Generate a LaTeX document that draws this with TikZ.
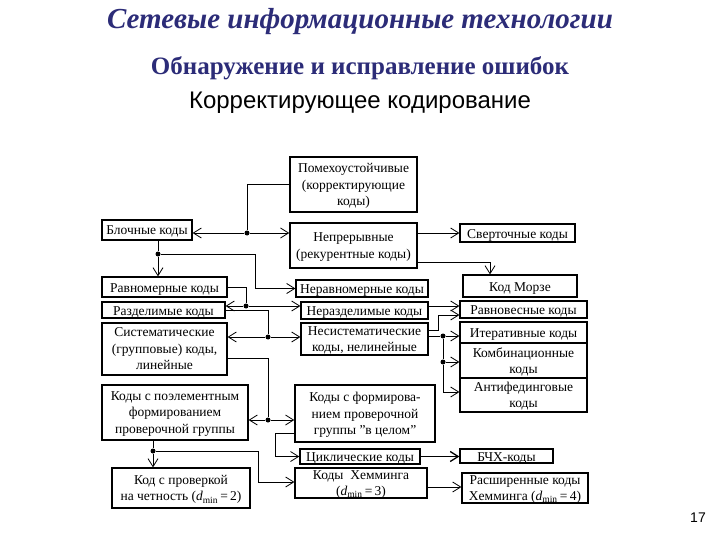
\documentclass[tikz,border=0pt]{standalone}
\usepackage{fontspec}
\setmainfont{Liberation Serif}
\newfontfamily\headsans{Liberation Sans}
\usepackage{tikz}
\usetikzlibrary{arrows.meta, positioning, calc}
\definecolor{SlideNavy}{HTML}{2C2C78}

\tikzset{
  boxbase/.style={draw, line width=1.2pt, fill=white, inner xsep=1pt, inner ysep=0pt,
    text depth=0pt, font=\fontsize{13.5}{16.5}\selectfont},
  codebox/.style={boxbase, align=center},
  onebox/.style={boxbase, text height=1em},
  link/.style={line width=0.8pt},
  arr/.style={line width=0.8pt, -{Straight Barb[length=8pt, width=10pt]}},
  junc/.style={circle, fill, inner sep=0pt, minimum size=5pt},
}
\newcommand{\dmn}{\textit{d}\textsubscript{min}}

\begin{document}
\begin{tikzpicture}[x=1pt, y=-1pt]
\useasboundingbox[fill=white] (0,0) rectangle (720,540);
% --- Headings ---
\node[font=\fontsize{29}{33}\selectfont\bfseries\itshape, text=SlideNavy] (title) at (360,22) {Сетевые информационные технологии};
\node[font=\fontsize{25}{29}\selectfont\bfseries, text=SlideNavy] (sub) at (360,68) {Обнаружение и исправление ошибок};
\node[font=\headsans\fontsize{24}{28}\selectfont] (topic) at (360,103) {Корректирующее кодирование};
\node[font=\headsans\fontsize{14}{16}\selectfont] (page) at (698,518) {17};

% --- Top of the tree ---
\node[codebox, minimum width=127, minimum height=55] (pomeh) at (353.5,184.5) {Помехоустойчивые\\(корректирующие\\коды)};
\node[codebox, minimum width=127, minimum height=45, line width=1.5pt] (nepr) at (353.5,245.5) {Непрерывные\\(рекурентные коды)};
\node[onebox, minimum width=90, minimum height=20] (block) at (147,230) {Блочные коды};
\node[onebox, minimum width=115, minimum height=18] (svert) at (517.5,233) {Сверточные коды};

% --- Left column ---
\node[onebox, minimum width=125, minimum height=20] (ravnom) at (164.5,287) {Равномерные коды};
\node[onebox, minimum width=123, minimum height=16] (razd) at (163.5,310) {Разделимые коды};
\node[codebox, minimum width=125, minimum height=52] (sist) at (164.5,349) {Систематические\\(групповые) коды,\\линейные};
\node[codebox, minimum width=146, minimum height=55] (poel) at (175,412.5) {Коды с поэлементным\\формированием\\проверочной группы};
\node[codebox, minimum width=138, minimum height=40] (chet) at (181,488) {Код с проверкой\\на четность (\dmn\,=\,2)};

% --- Middle column ---
\node[onebox, minimum width=132, minimum height=17] (neravn) at (362,288.5) {Неравномерные коды};
\node[onebox, minimum width=127, minimum height=17] (nerazd) at (364.5,310.5) {Неразделимые коды};
\node[codebox, minimum width=127, minimum height=32] (nesist) at (364.5,339) {Несистематические\\коды, нелинейные};
\node[codebox, minimum width=140, minimum height=57, line width=1.5pt] (vcel) at (365,413.5) {Коды с формирова-\\нием проверочной\\группы "в целом"};
\node[onebox, minimum width=120, minimum height=15, line width=1.5pt] (cikl) at (360,456.5) {Циклические коды};
\node[codebox, minimum width=132, minimum height=30] (hem) at (361,483) {Коды\ \ Хемминга\\(\dmn\,=\,3)};

% --- Right column ---
\node[onebox, minimum width=114, minimum height=22] (morse) at (520,286) {Код Морзе};
\node[onebox, minimum width=127, minimum height=17] (ravnov) at (523.5,309.5) {Равновесные коды};
\node[onebox, minimum width=127, minimum height=21] (iter) at (523.5,332.5) {Итеративные коды};
\node[codebox, minimum width=127, minimum height=35] (komb) at (523.5,360.5) {Комбинационные\\коды};
\node[codebox, minimum width=127, minimum height=34] (antif) at (523.5,395) {Антифединговые\\коды};
\node[onebox, minimum width=93, minimum height=14] (bch) at (506.5,456) {БЧХ-коды};
\node[codebox, minimum width=126, minimum height=30] (rashem) at (525,488) {Расширенные коды\\Хемминга (\dmn\,=\,4)};

% --- Junctions ---
\node[junc] (j1) at (247,233) {};
\node[junc] (j2) at (158,254) {};
\node[junc] (j3) at (246,306) {};
\node[junc] (j4) at (268,337) {};
\node[junc] (j5) at (268,420) {};
\node[junc] (j6) at (153,451) {};
\node[junc] (j7) at (443,336) {};
\node[junc] (j8) at (443,362) {};

% --- Connectors ---
\draw[link] (pomeh.west) -| (j1);
\draw[arr] (j1) -- (block.east |- j1);
\draw[arr] (j1) -- (nepr.west |- j1);
\draw[arr] (nepr.east |- 0,262) -| (morse.north -| 490,0);
\draw[arr] (nepr.east |- svert.west) -- (svert.west);

\draw[link] (block.south -| j2) -- (j2);
\draw[arr] (j2) -- (ravnom.north -| j2);
\draw[arr] (j2) -- (255,254) |- (neravn.west);

\draw[link] (ravnom.east) -| (j3);
\draw[arr] (j3) -- (razd.east |- j3);
\draw[arr] (j3) -- (nerazd.west |- j3);

\draw[link] (razd.east) -| (j4);
\draw[arr] (j4) -- (sist.east |- j4);
\draw[arr] (j4) -- (nesist.west |- j4);

\draw[link] (sist.east |- 0,358) -| (j5);
\draw[arr] (j5) -- (poel.east |- j5);
\draw[arr] (j5) -- (vcel.west |- j5);

\draw[link] (poel.south -| j6) -- (j6);
\draw[arr] (j6) -- (chet.north -| j6);
\draw[arr] (j6) -- (258,451) |- (hem.west |- 0,482);

\draw[arr] (vcel.west |- 0,433) -- (275,433) |- (cikl.west);
\draw[arr, line width=1.3pt] (cikl.east) -- (bch.west |- cikl.east);
\draw[arr] (hem.east |- 0,487) -- (rashem.west |- 0,487);

\draw[arr] (nerazd.east |- 0,306) -- (ravnov.west |- 0,306);
\draw[arr] (nesist.east |- 0,330) -- (438,330) |- (ravnov.west |- 0,315);
\draw[link] (nesist.east |- j7) -- (j7);
\draw[arr] (j7) -- (iter.west |- j7);
\draw[link] (j7) -- (j8);
\draw[arr] (j8) -- (komb.west |- j8);
\draw[arr] (j8) -- (443,392) -- (antif.west |- 0,392);
\end{tikzpicture}
\end{document}
